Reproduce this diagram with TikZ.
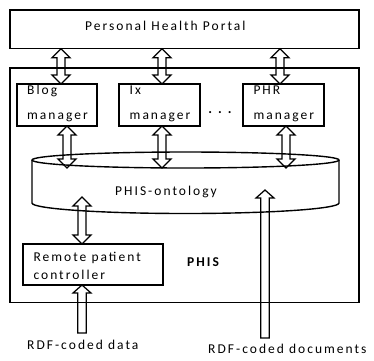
\documentclass[tikz,border=0pt]{standalone}
\usepackage{fontspec}
\setmainfont{Carlito}[LetterSpace=15]
\usetikzlibrary{calc}
\newcommand\dblarrow[3]{% #1 x (px), #2 top point, #3 bottom point
  \draw[arr] let \p1=(#2), \p2=(#3) in
   (#1pt-4pt,\y1-9pt) -- (#1pt-9pt,\y1-9pt) -- (#1pt,\y1) -- (#1pt+9pt,\y1-9pt) -- (#1pt+4pt,\y1-9pt)
   -- (#1pt+4pt,\y2+9pt) -- (#1pt+9pt,\y2+9pt) -- (#1pt,\y2) -- (#1pt-9pt,\y2+9pt) -- (#1pt-4pt,\y2+9pt) -- cycle;}
\newcommand\uparr[3]{% #1 x (px), #2 tail point, #3 tip point
  \draw[arr] let \p1=(#2), \p2=(#3) in
   (#1pt-4.3pt,\y1) -- (#1pt+4.3pt,\y1) -- (#1pt+4.3pt,\y2-8pt) -- (#1pt+9pt,\y2-8pt) -- (#1pt,\y2)
   -- (#1pt-9pt,\y2-8pt) -- (#1pt-4.3pt,\y2-8pt) -- cycle;}
\begin{document}
\begin{tikzpicture}[x=1pt,y=-1pt,
  box/.style={draw, line width=1.4pt, inner sep=0pt, outer sep=0pt},
  arr/.style={draw, line width=1.25pt, line join=miter},
  lbl/.style={inner sep=0pt, font=\fontsize{13.5}{16}\selectfont}]
\fill[white] (0,0) rectangle (374,360);
\useasboundingbox (0,0) rectangle (374,360);
% boxes
\node[box, minimum width=349pt, minimum height=38.7pt] (portal) at (184.5,29.35) {};
\node[box, minimum width=349pt, minimum height=234.7pt] (phis) at (184.5,185.35) {};
\node[box, minimum width=80pt, minimum height=42pt] (blog) at (57,105) {};
\node[box, minimum width=81pt, minimum height=42pt] (ix) at (159.5,105) {};
\node[box, minimum width=81pt, minimum height=42pt] (phr) at (283.5,105) {};
\node[box, minimum width=140pt, minimum height=41pt] (remote) at (93,264.5) {};
% texts
\node[lbl, anchor=base west] (portalt) at (85,30.7) {Personal Health Portal};
\node[lbl, anchor=base west] (blogt1) at (27,94.3) {Blog};
\node[lbl, anchor=base west] (blogt2) at (27,119.3) {manager};
\node[lbl, anchor=base west] (ixt1) at (129.5,94.3) {Ix};
\node[lbl, anchor=base west] (ixt2) at (129.5,119.3) {manager};
\node[lbl, anchor=base west] (phrt1) at (253.3,94.3) {PHR};
\node[lbl, anchor=base west] (phrt2) at (253.3,119.3) {manager};
\node[lbl, font=\fontsize{14}{16}\selectfont\bfseries] (dots) at (220,113) {.\hspace{6pt}.\hspace{6pt}.};
\node[lbl, anchor=base west] (remt1) at (33.3,261.7) {Remote patient};
\node[lbl, anchor=base west] (remt2) at (33.3,279) {controller};
\node[lbl, anchor=base west, font=\fontsize{13.5}{16}\selectfont\bfseries] (phist) at (187,266) {PHIS};
\node[lbl, anchor=base west] (ontot) at (115,195) {PHIS-ontology};
\node[lbl, anchor=base west] (rdfdata) at (27,349) {RDF-coded data};
\node[lbl, anchor=base west] (rdfdocs) at (208,353.3) {RDF-coded documents};
% ontology store
\draw[box] (185.5,160) ellipse [x radius=153.5, y radius=8];
\draw[box] (32,160) -- (32,203) arc[start angle=180, end angle=0, x radius=153.5, y radius=10.5] -- (339,160);
\coordinate (ontofront) at (185.5,168);
\coordinate (ontoin) at (82,197);
\coordinate (ontoin2) at (265,190);
\coordinate (datain) at (82,333);
\coordinate (docsin) at (265,338);
% arrows
\dblarrow{61}{portal.south}{blog.north}
\dblarrow{162}{portal.south}{ix.north}
\dblarrow{280}{portal.south}{phr.north}
\dblarrow{67}{blog.south}{ontofront}
\dblarrow{162}{ix.south}{ontofront}
\dblarrow{286}{phr.south}{ontofront}
\dblarrow{82}{ontoin}{remote.north}
\uparr{82}{datain}{remote.south}
\uparr{265}{docsin}{ontoin2}
\end{tikzpicture}
\end{document}
